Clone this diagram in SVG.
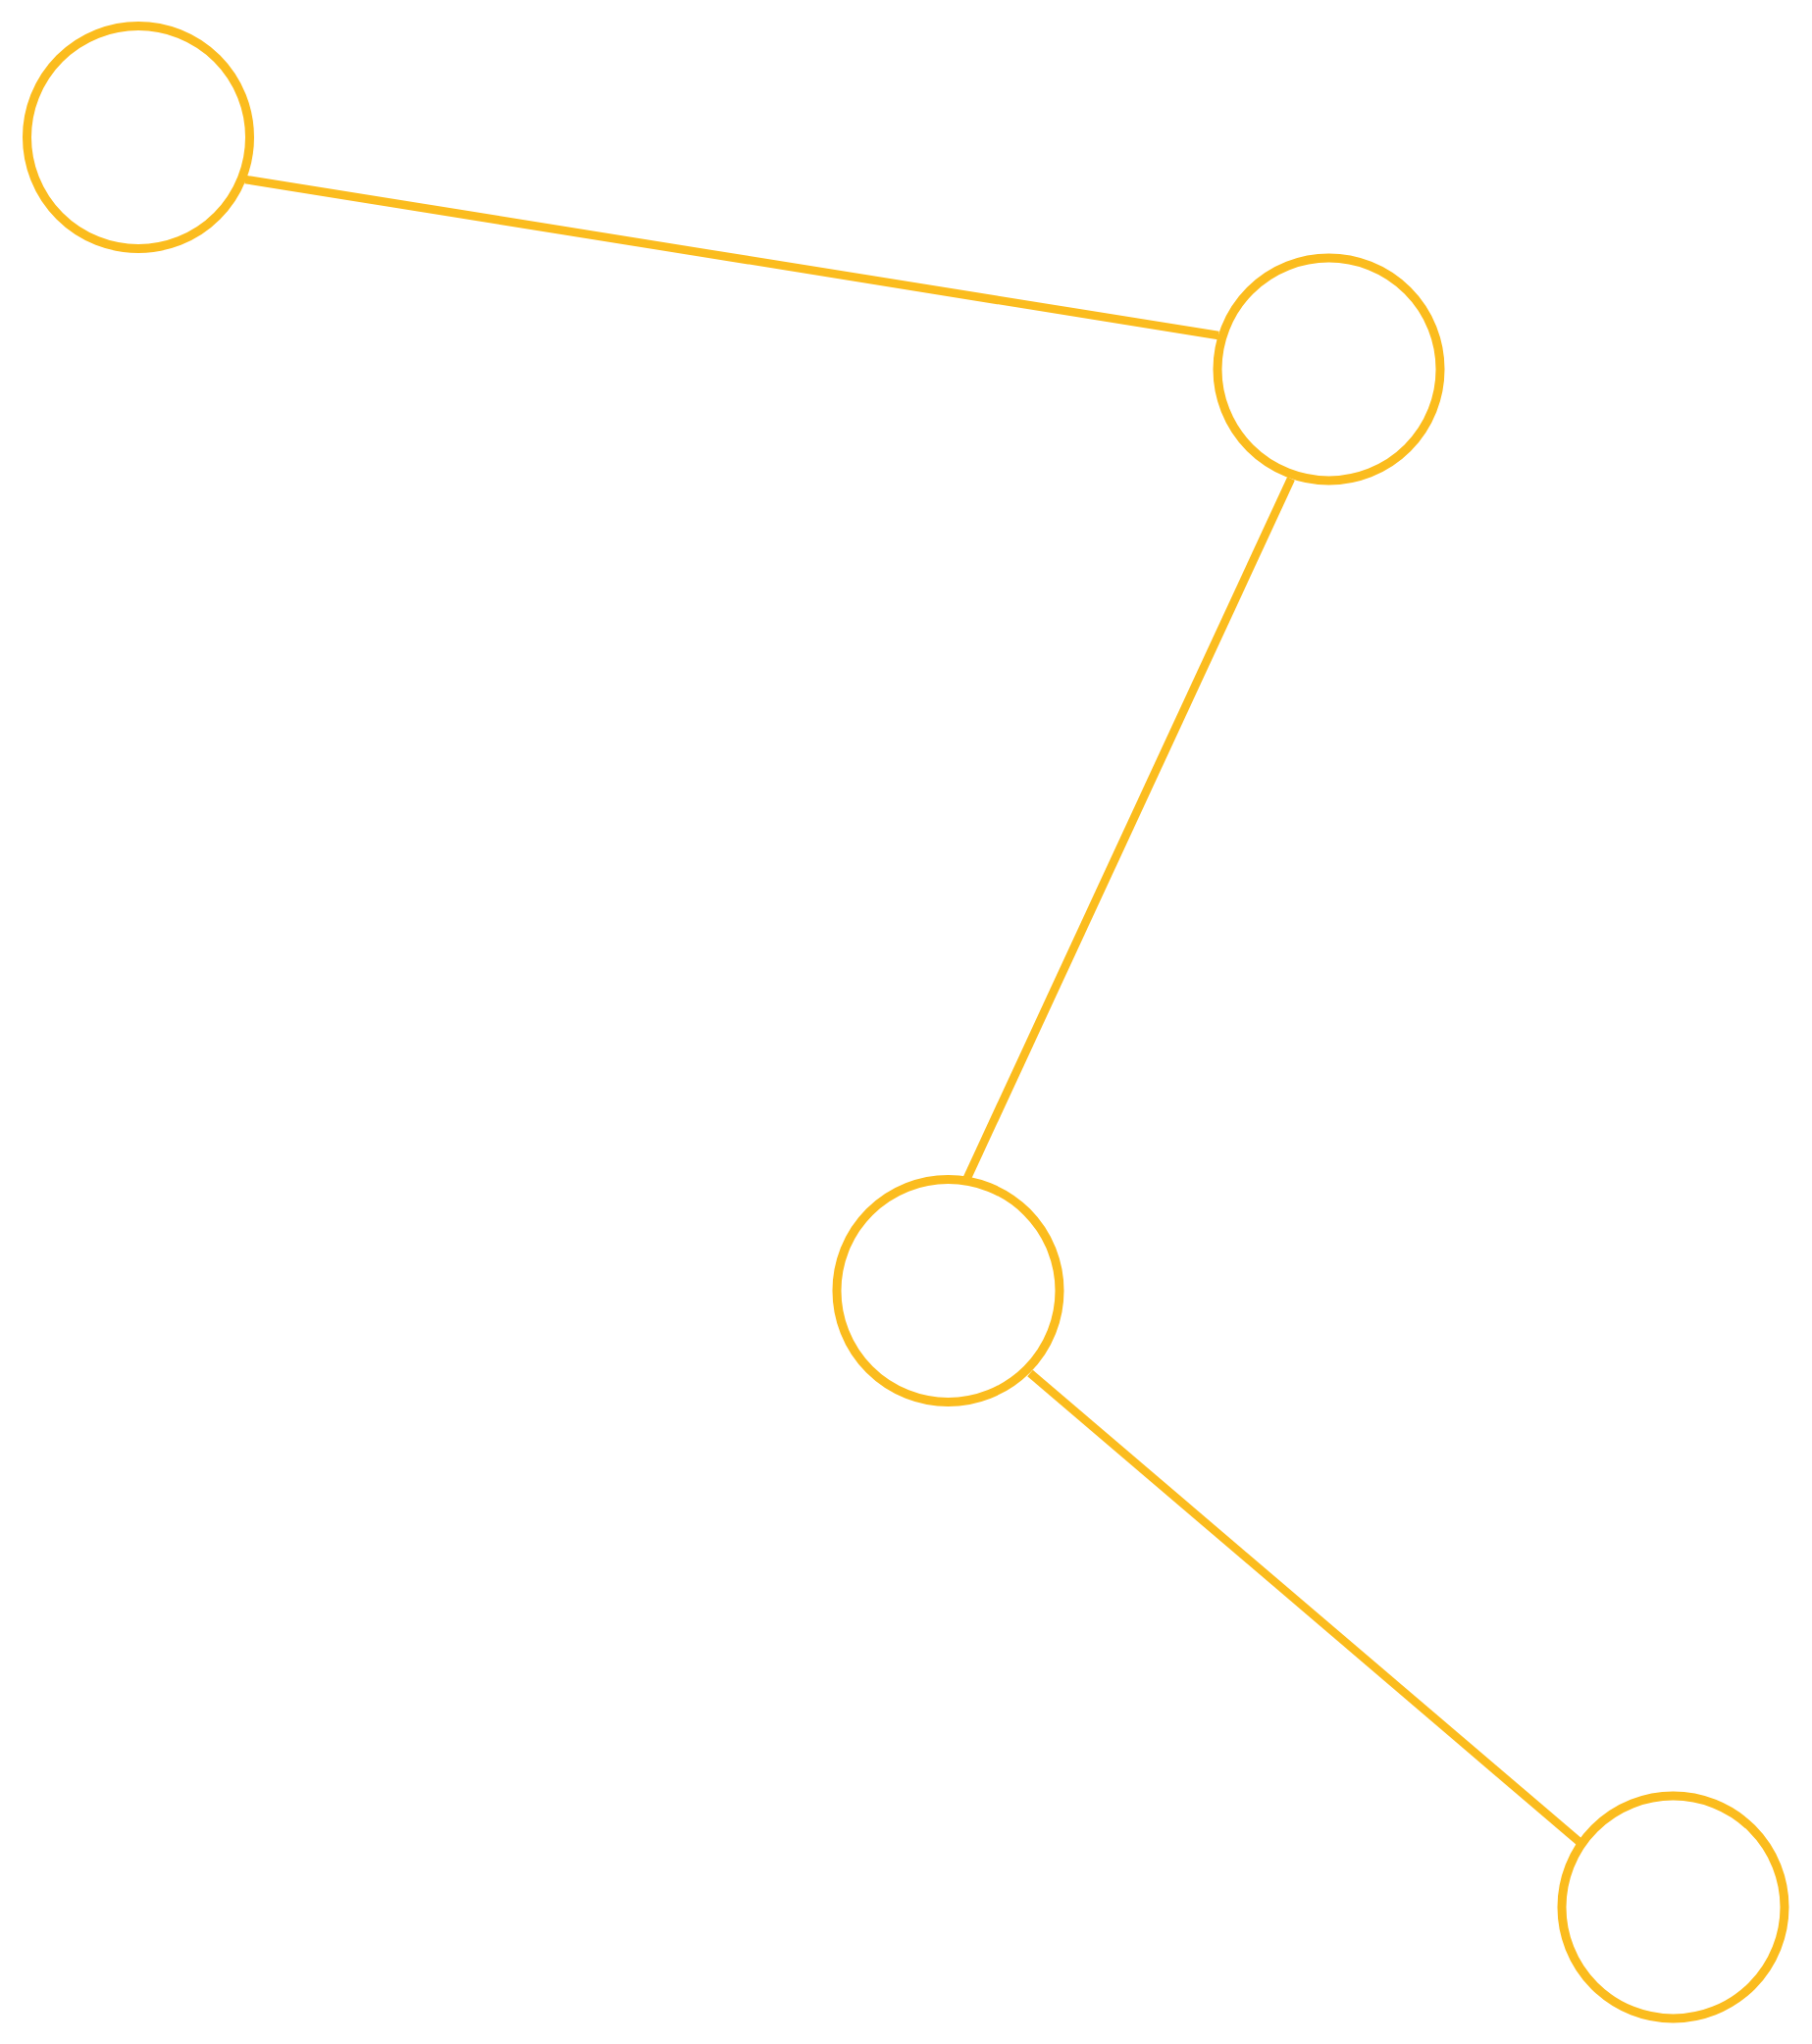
<svg xmlns="http://www.w3.org/2000/svg" width="1847" height="2084" viewBox="0 0 1847 2084">
<style>
.node{fill:#FFFFFF;stroke:#FBBC1E;stroke-width:9}
.edge{stroke:#FBBC1E;stroke-width:8.5;fill:none}
</style>
<rect width="1847" height="2084" fill="#FFFFFF"/>
<g id="edges">
<line class="edge" x1="250" y1="183" x2="1242" y2="342"/>
<line class="edge" x1="1316" y1="488" x2="985" y2="1203"/>
<line class="edge" x1="1050" y1="1400" x2="1610" y2="1878"/>
</g>
<g id="node1"><circle class="node" cx="141" cy="140" r="113.5"/></g>
<g id="node2"><circle class="node" cx="1354.5" cy="376.5" r="113.5"/></g>
<g id="node3"><circle class="node" cx="966.5" cy="1316" r="113.5"/></g>
<g id="node4"><circle class="node" cx="1705.5" cy="1944.5" r="113.5"/></g>
</svg>
